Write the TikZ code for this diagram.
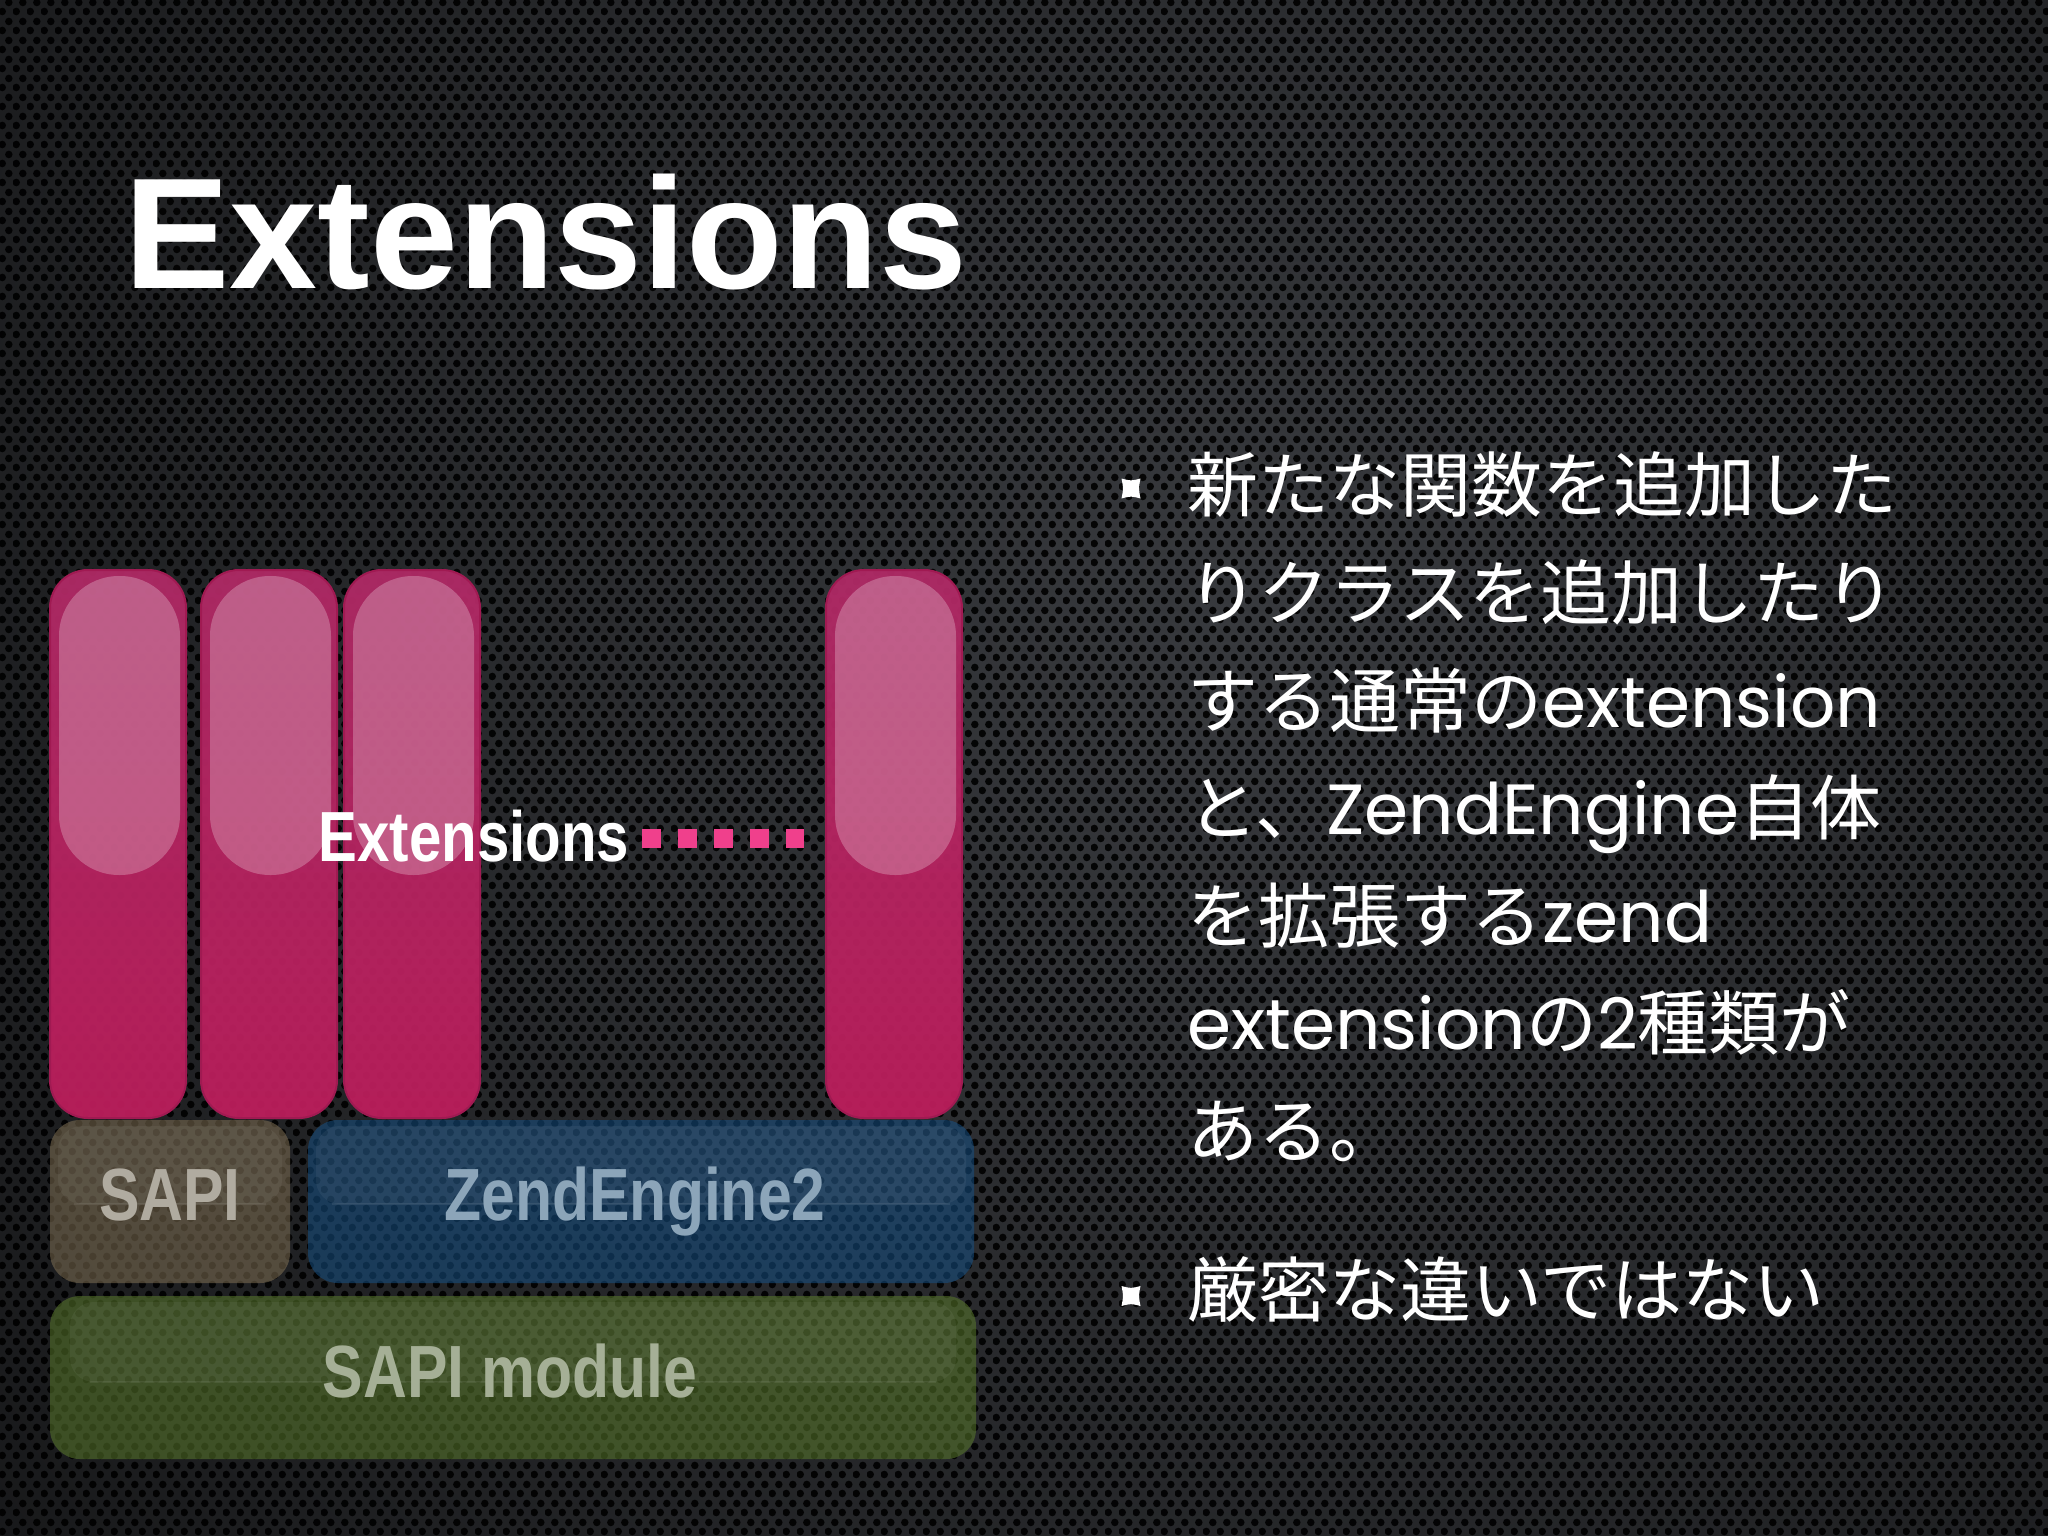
\documentclass[tikz,border=0pt]{standalone}
\usepackage{fontspec}
\setmainfont{Liberation Sans}
\newfontfamily\labelfont[FakeStretch=0.82]{Liberation Sans}
\newfontfamily\jpfont{Noto Sans CJK JP}
\newfontfamily\latinfont{Poppins}
\usetikzlibrary{patterns}

\definecolor{bgmesh}{RGB}{56,58,62}
\definecolor{barpinktop}{RGB}{176,42,102}
\definecolor{barpinkbot}{RGB}{188,30,92}
\definecolor{barpinkedge}{RGB}{160,26,82}
\definecolor{dotpink}{RGB}{240,64,140}
\definecolor{sapibrown}{RGB}{128,112,84}
\definecolor{sapitext}{RGB}{176,171,160}
\definecolor{zendblue}{RGB}{22,80,132}
\definecolor{zendtext}{RGB}{140,165,185}
\definecolor{modgreen}{RGB}{90,122,44}
\definecolor{modtext}{RGB}{165,175,150}

\pgfdeclarepatternformonly{meshholes}{\pgfqpoint{0pt}{0pt}}{\pgfqpoint{14pt}{19pt}}{\pgfqpoint{14pt}{19pt}}{%
  \pgfpathcircle{\pgfqpoint{3.5pt}{4.75pt}}{4pt}%
  \pgfpathcircle{\pgfqpoint{10.5pt}{14.25pt}}{4pt}%
  \pgfusepath{fill}}

\tikzset{every picture/.style={line width=0.75pt}}
\tikzset{
  extbar/.style={rounded corners=38pt, draw=barpinkedge, line width=2pt, top color=barpinktop, bottom color=barpinkbot, fill opacity=0.95},
  barshine/.style={rounded corners=60pt, fill=white, fill opacity=0.25},
  layerbox/.style={rounded corners=30pt, fill opacity=0.55},
  layergloss/.style={rounded corners=24pt, fill=white, fill opacity=0.05},
  glossline/.style={draw=white, draw opacity=0.07, line width=2pt},
  layertext/.style={inner sep=0pt, font=\labelfont\bfseries\fontsize{74}{76}\selectfont},
  bodytext/.style={inner sep=0pt, text=white, font=\jpfont\fontsize{71}{80}\selectfont},
  bulletmark/.style={fill=white},
  extdots/.style={draw=dotpink, line width=19pt, dash pattern=on 19pt off 17pt, shorten <=12.4pt, shorten >=22pt}
}

\begin{document}
\begin{tikzpicture}[x=1pt,y=1pt,yscale=-1]
\useasboundingbox (0,0) rectangle (2048,1536);

%Background [perforated metal]
\fill[black] (0,0) rectangle (2048,1536);
\begin{scope}
\clip (0,0) rectangle (2048,1536);
\shade[inner color=bgmesh, outer color=black] (1250,620) circle (2700);
\end{scope}
\fill[pattern=meshholes, pattern color=black, fill opacity=0.9] (0,0) rectangle (2048,1536);

% Text Node
\draw (124,288) node [anchor=base west][inner sep=0pt] [font=\bfseries\fontsize{158}{168}\selectfont, text=white] (title) {Extensions};

%Shape: Rectangle [bar 1]
\draw[extbar] (50,570) rectangle (186,1118);
\fill[barshine] (59,576) rectangle (180,875);

%Shape: Rectangle [bar 2]
\draw[extbar] (201,570) rectangle (337,1118);
\fill[barshine] (210,576) rectangle (331,875);

%Shape: Rectangle [bar 3]
\draw[extbar] (344,570) rectangle (480,1118);
\fill[barshine] (353,576) rectangle (474,875);

%Shape: Rectangle [bar 4]
\draw[extbar] (826,570) rectangle (962,1118);
\fill[barshine] (835,576) rectangle (956,875);
\coordinate (bar4w) at (826,838.5);

% Text Node
\draw (474,861.5) node [anchor=base][inner sep=0pt] [font=\labelfont\bfseries\fontsize{71}{73}\selectfont, text=white] (extlbl) {Extensions};

%Straight Lines [dotted leader]
\draw[extdots] (extlbl.east |- bar4w) -- (bar4w);

%Shape: Rectangle [SAPI]
\fill[layerbox, fill=sapibrown] (50,1120) rectangle (290,1283);
\fill[layergloss] (58,1126) rectangle (282,1204);
\draw[glossline] (74,1204) -- (266,1204);

%Shape: Rectangle [ZendEngine2]
\fill[layerbox, fill=zendblue] (308,1120) rectangle (974,1283);
\fill[layergloss] (316,1126) rectangle (966,1204);
\draw[glossline] (332,1204) -- (950,1204);

%Shape: Rectangle [SAPI module]
\fill[layerbox, fill=modgreen] (50,1296) rectangle (976,1459);
\fill[layergloss] (70,1302) rectangle (956,1382);
\draw[glossline] (90,1382) -- (936,1382);

% Text Node
\draw (170,1220) node [anchor=base][layertext, text=sapitext] (sapi) {SAPI};
% Text Node
\draw (635,1220) node [anchor=base][layertext, text=zendtext] (zend) {ZendEngine2};
% Text Node
\draw (510,1397) node [anchor=base][layertext, text=modtext] (sapimod) {SAPI module};

%Bullets
\fill[bulletmark, shift={(1131,488.5)}] (-9.5,-10) .. controls (0,-7.5) .. (9.5,-10) .. controls (7.5,0) .. (9.5,10) .. controls (0,7.5) .. (-9.5,10) .. controls (-7.5,0) .. (-9.5,-10) -- cycle;
\fill[bulletmark, shift={(1131,1296)}] (-9.5,-10) .. controls (0,-7.5) .. (9.5,-10) .. controls (7.5,0) .. (9.5,10) .. controls (0,7.5) .. (-9.5,10) .. controls (-7.5,0) .. (-9.5,-10) -- cycle;

% Text Node
\draw (1187,511) node [anchor=base west][bodytext] (ln1) {新たな関数を追加した};
% Text Node
\draw (1187,619) node [anchor=base west][bodytext] (ln2) {りクラスを追加したり};
% Text Node
\draw (1187,727) node [anchor=base west][bodytext] (ln3) {する通常の{\latinfont extension}};
% Text Node
\draw (1187,834) node [anchor=base west][bodytext] (ln4) {と、{\latinfont ZendEngine}自体};
% Text Node
\draw (1187,942) node [anchor=base west][bodytext] (ln5) {を拡張する{\latinfont zend}};
% Text Node
\draw (1187,1049) node [anchor=base west][bodytext] (ln6) {{\latinfont extension}の{\latinfont 2}種類が};
% Text Node
\draw (1187,1157) node [anchor=base west][bodytext] (ln7) {ある。};
% Text Node
\draw (1187,1316) node [anchor=base west][bodytext] (ln8) {厳密な違いではない};

\end{tikzpicture}
\end{document}
